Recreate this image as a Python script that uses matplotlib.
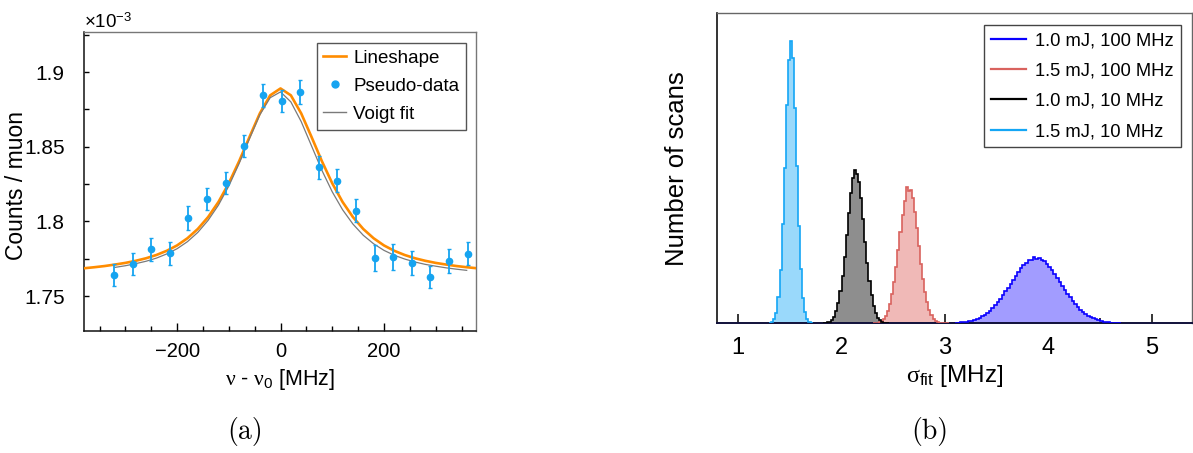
import numpy as np
import matplotlib
matplotlib.use("Agg")
import matplotlib.pyplot as plt
from matplotlib.ticker import MultipleLocator, FuncFormatter
from matplotlib.lines import Line2D

plt.rcParams['font.family'] = ['Liberation Sans', 'DejaVu Sans']
plt.rcParams['mathtext.fontset'] = 'custom'
plt.rcParams['mathtext.rm'] = 'Liberation Sans'
plt.rcParams['mathtext.it'] = 'Liberation Serif'
plt.rcParams['mathtext.bf'] = 'Liberation Sans:bold'

# ---------------- panel (a) data (units of 1e-3 counts/muon) ----------------
detuning = [-322, -286, -250, -214, -178, -142, -106, -70, -34, 2,
            38, 74, 110, 146, 182, 218, 254, 290, 326, 362]
pseudo_data = [1.7641, 1.7713, 1.7813, 1.7786, 1.8021, 1.8150, 1.8255, 1.8505, 1.8844, 1.8806,
               1.8864, 1.8362, 1.8273, 1.8072, 1.7753, 1.7764, 1.7720, 1.7626, 1.7737, 1.7782]
pseudo_err = [0.0072, 0.0073, 0.0075, 0.0075, 0.0080, 0.0076, 0.0074, 0.0075, 0.0075, 0.0075,
              0.0080, 0.0078, 0.0076, 0.0075, 0.0088, 0.0087, 0.0082, 0.0075, 0.0080, 0.0077]

lineshape_x = [-380, -360, -340, -320, -300, -280, -260, -240, -220, -200,
               -180, -160, -140, -120, -100, -80, -60, -40, -20, 0,
               20, 40, 60, 80, 100, 120, 140, 160, 180, 200,
               220, 240, 260, 280, 300, 320, 340, 360, 380]
lineshape_y = [1.7686, 1.7693, 1.7701, 1.7711, 1.7722, 1.7736, 1.7753, 1.7775, 1.7803, 1.7839,
               1.7887, 1.7949, 1.8029, 1.8130, 1.8255, 1.8403, 1.8565, 1.8723, 1.8844, 1.8890,
               1.8844, 1.8723, 1.8565, 1.8403, 1.8255, 1.8130, 1.8029, 1.7949, 1.7887, 1.7839,
               1.7803, 1.7775, 1.7753, 1.7736, 1.7722, 1.7711, 1.7701, 1.7693, 1.7686]

voigt_x = [-320, -300, -280, -260, -240, -220, -200, -180, -160, -140,
           -120, -100, -80, -60, -40, -20, 0, 20, 40, 60,
           80, 100, 120, 140, 160, 180, 200, 220, 240, 260,
           280, 300, 320, 340, 360]
voigt_y = [1.7692, 1.7703, 1.7717, 1.7733, 1.7754, 1.7782, 1.7817, 1.7864, 1.7926, 1.8007,
           1.8109, 1.8237, 1.8388, 1.8554, 1.8714, 1.8828, 1.8867, 1.8800, 1.8668, 1.8505,
           1.8342, 1.8198, 1.8078, 1.7982, 1.7907, 1.7850, 1.7806, 1.7773, 1.7748, 1.7728,
           1.7712, 1.7700, 1.7689, 1.7680, 1.7672]

# ---------------- panel (b) data: histograms of fitted sigma ----------------
labels_b = ["1.0 mJ, 100 MHz", "1.5 mJ, 100 MHz", "1.0 mJ, 10 MHz", "1.5 mJ, 10 MHz"]

# 1.5 mJ, 10 MHz (cyan): bins of 0.02 starting at 1.30
cyan_start, cyan_width = 1.30, 0.02
cyan_counts = [4, 12, 43, 108, 266, 536, 990, 1548, 2180, 2630, 2826,
               2650, 2155, 1570, 975, 548, 258, 114, 39, 14, 5]

# 1.0 mJ, 10 MHz (black): bins of 0.02 starting at 1.82
black_start, black_width = 1.82, 0.02
black_counts = [2, 4, 9, 18, 36, 68, 121, 203, 320, 476, 668, 885, 1107, 1306, 1454, 1533,
                1490, 1416, 1250, 1041, 818, 607, 425, 280, 175, 103, 57, 30, 15, 7, 3, 1]

# 1.5 mJ, 100 MHz (red): bins of 0.02 starting at 2.30
red_start, red_width = 2.30, 0.02
red_counts = [1, 3, 6, 12, 24, 43, 74, 122, 192, 289, 413, 565, 735, 914, 1084, 1225, 1360,
              1320, 1334, 1249, 1115, 949, 771, 597, 442, 311, 209, 134, 82, 48, 27, 14,
              7, 3, 1, 1, 0]

# 1.0 mJ, 100 MHz (blue): bins of 0.025 starting at 3.10
blue_start, blue_width = 3.10, 0.025
blue_counts = [5, 7, 9, 12, 16, 21, 27, 35, 44, 56, 70, 86, 105, 127, 152, 180,
               211, 245, 281, 319, 358, 398, 438, 477, 514, 549, 579, 605, 631, 636,
               660, 645, 652, 632, 620, 590, 562, 529, 492, 454, 414, 374, 334, 296,
               259, 224, 192, 163, 137, 114, 94, 76, 61, 49, 39, 30, 23, 18, 13, 10,
               7, 5, 4, 3]

# ---------------- figure ----------------
fig = plt.figure(figsize=(11.93, 4.53), dpi=100)

# panel (a)
axa = fig.add_axes([84 / 1193, (453 - 331) / 453, 392 / 1193, 299 / 453])
orange = '#ff8c00'
dotc = '#16a4f0'
grey = '#7a7a7a'
axa.plot(lineshape_x, lineshape_y, color=orange, lw=1.9, zorder=3)
axa.errorbar(detuning, pseudo_data, yerr=pseudo_err, fmt='o', ms=4.5, color=dotc,
             ecolor=dotc, elinewidth=1.3, capsize=1.6, capthick=1.0, zorder=4)
axa.plot(voigt_x, voigt_y, color=grey, lw=0.9, zorder=3)

axa.set_xlim(-380, 378)
axa.set_ylim(1.7266, 1.9268)
axa.xaxis.set_major_locator(MultipleLocator(200))
axa.xaxis.set_minor_locator(MultipleLocator(50))
axa.yaxis.set_major_locator(MultipleLocator(0.05))
axa.yaxis.set_minor_locator(MultipleLocator(0.025))
axa.yaxis.set_major_formatter(FuncFormatter(lambda v, p: f'{v:g}'))
axa.xaxis.set_major_formatter(FuncFormatter(lambda v, p: f'{v:g}'.replace('-', '\u2212')))
axa.tick_params(axis='both', which='both', direction='in', top=False, right=False)
axa.tick_params(axis='x', which='major', length=6, width=1, labelsize=14.5, pad=8)
axa.tick_params(axis='x', which='minor', length=3.6, width=1)
axa.tick_params(axis='y', which='both', length=3.6, width=1, labelsize=15, pad=14)
for s in ['left', 'bottom']:
    axa.spines[s].set_color('#111111')
    axa.spines[s].set_linewidth(1.1)
for s in ['top', 'right']:
    axa.spines[s].set_color('#777777')
    axa.spines[s].set_linewidth(1.0)
axa.set_ylabel('Counts / muon', fontsize=16.5)
axa.yaxis.set_label_coords(-0.143, 0.485)
axa.set_xlabel(r'$\nu$ - $\nu_0$ [MHz]', fontsize=15.5, labelpad=4)
axa.text(0.0, 1.0, '\u00d710$^{-3}$', transform=axa.transAxes, fontsize=13.5,
         ha='left', va='bottom')
handles_a = [
    Line2D([], [], color=orange, lw=1.9, label='Lineshape'),
    Line2D([], [], color=dotc, marker='o', ms=5, ls='none', label='Pseudo-data'),
    Line2D([], [], color=grey, lw=1.0, label='Voigt fit'),
]
lega = axa.legend(handles=handles_a, loc='upper right', bbox_to_anchor=(0.9745, 0.962),
                  fontsize=13.5, frameon=True, fancybox=False, edgecolor='#555555',
                  framealpha=1, handlelength=1.2, handletextpad=0.4, labelspacing=0.58,
                  borderpad=0.35, borderaxespad=0.0)
lega.get_frame().set_linewidth(1.0)

# panel (b)
axb = fig.add_axes([717 / 1193, (453 - 323.3) / 453, 475 / 1193, 310 / 453])
series = [
    (blue_start, blue_width, blue_counts, '#0a00ff', '#a29cff', labels_b[0]),
    (red_start, red_width, red_counts, '#d9625e', '#f0b9b7', labels_b[1]),
    (black_start, black_width, black_counts, '#000000', '#8e8e8e', labels_b[2]),
    (cyan_start, cyan_width, cyan_counts, '#14a6f5', '#9ad9fb', labels_b[3]),
]
handles = []
for start, width, counts, lc, fc, lab in series:
    edges = start + width * np.arange(len(counts) + 1)
    axb.stairs(counts, edges, fill=True, color=fc, zorder=2)
    axb.stairs(counts, edges, color=lc, lw=1.2, zorder=3)
    handles.append(Line2D([], [], color=lc, lw=1.6, label=lab))

axb.set_xlim(0.795, 5.39)
axb.set_ylim(0, 3100)
axb.xaxis.set_major_locator(MultipleLocator(1))
axb.xaxis.set_minor_locator(MultipleLocator(0.5))
axb.set_yticks([])
axb.tick_params(axis='x', which='both', direction='in', top=False)
axb.tick_params(axis='x', which='major', length=6.5, width=1.1, labelsize=17, pad=10)
axb.tick_params(axis='x', which='minor', length=3.6, width=1.1)
axb.spines['left'].set_color('#111111')
axb.spines['left'].set_linewidth(1.2)
axb.spines['bottom'].set_color('#10103a')
axb.spines['bottom'].set_linewidth(1.4)
for s in ['top', 'right']:
    axb.spines[s].set_color('#666666')
    axb.spines[s].set_linewidth(1.0)
axb.set_ylabel('Number of scans', fontsize=18.5, labelpad=20)
axb.set_xlabel(r'$\sigma_{\mathrm{fit}}$ [MHz]', fontsize=17.5, labelpad=3)
legb = axb.legend(handles=handles, loc='upper right', bbox_to_anchor=(0.977, 0.962),
                  fontsize=13.2, frameon=True, fancybox=False, edgecolor='#444444',
                  framealpha=1, handlelength=1.9, handletextpad=0.5, labelspacing=0.72,
                  borderpad=0.4, borderaxespad=0.0)
legb.get_frame().set_linewidth(1.0)

# captions
fig.text(244.7 / 1193, 1 - 431 / 453, '(a)', family='cmr10', fontsize=20,
         ha='center', va='center')
fig.text(930 / 1193, 1 - 432 / 453, '(b)', family='cmr10', fontsize=20,
         ha='center', va='center')

fig.savefig('out.png', dpi=100)
